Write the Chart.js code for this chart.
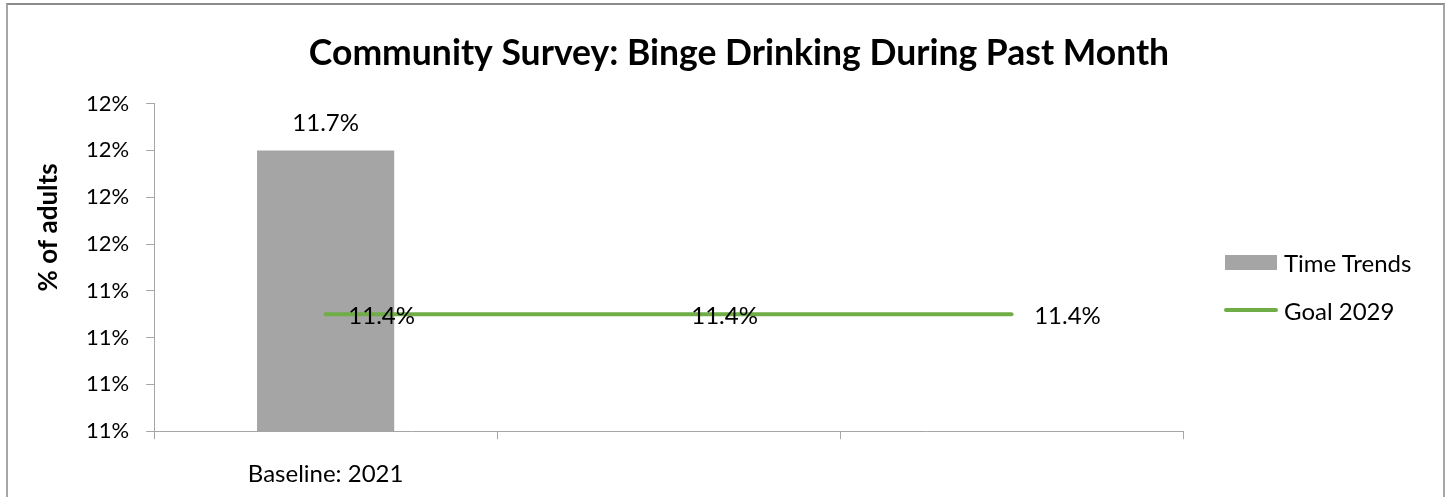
<!DOCTYPE html>
<html>
<head>
<meta charset="utf-8">
<script src="https://cdn.jsdelivr.net/npm/chart.js@4"></script>
<style>
  html, body { margin: 0; padding: 0; background: #fff; overflow: hidden; }
  .frame { position: absolute; left: 6px; top: 3px; width: 1435px; height: 520px; border: 2px solid #a6a6a6; border-top-color: #8c8c8c; }
  .wrap { position: absolute; left: 0; top: 0; width: 1448px; height: 497px; }
  .legend { position: absolute; left: 1224px; top: 247px; font: 24px Lato, "Noto Sans", sans-serif; color: #000; }
  .legend .item { display: flex; align-items: center; height: 30px; margin-bottom: 18px; white-space: nowrap; }
  .legend .sw { width: 54px; margin-right: 6px; display: flex; align-items: center; justify-content: center; }
</style>
</head>
<body>
<div class="frame"></div>
<div class="wrap"><canvas id="chart"></canvas></div>
<div class="legend" id="legend"></div>
<script>
const categories = ['Baseline: 2021', '', '']
const timeTrends = [11.7, null, null]
const goal2029 = [11.35, 11.35, 11.35]
const yTickLabels = ['11%', '11%', '11%', '11%', '12%', '12%', '12%', '12%']

const FONT = 'Lato, "Noto Sans", sans-serif'

// value labels like Excel's data labels
const valueLabels = {
    id: 'valueLabels',
    afterDatasetsDraw(chart) {
        const ctx = chart.ctx
        ctx.save()
        ctx.font = '24px ' + FONT
        ctx.fillStyle = '#000'
        ctx.textAlign = 'center'
        ctx.textBaseline = 'middle'
        chart.data.datasets.forEach((ds, i) => {
            const meta = chart.getDatasetMeta(i)
            meta.data.forEach((el, j) => {
                const v = ds.data[j]
                if (v == null) return
                const txt = (Math.round(v * 10) / 10).toFixed(1) + '%'
                if (meta.type === 'bar') {
                    ctx.fillText(txt, el.x, el.y - 27)
                } else {
                    ctx.fillText(txt, el.x + 56, el.y + 2)
                }
            })
        })
        ctx.restore()
    }
}

// excel puts the axis title a bit above the middle
const yAxisTitle = {
    id: 'yAxisTitle',
    afterDraw(chart) {
        const { ctx, chartArea } = chart
        ctx.save()
        ctx.translate(49, (chartArea.top + chartArea.bottom) / 2 - 40)
        ctx.rotate(-Math.PI / 2)
        ctx.font = 'bold 26px ' + FONT
        ctx.fillStyle = '#000'
        ctx.textAlign = 'center'
        ctx.textBaseline = 'middle'
        ctx.fillText('% of adults', 0, 0)
        ctx.restore()
    }
}

const ctx = document.getElementById('chart').getContext('2d')
const chart = new Chart(ctx, {
    type: 'bar',
    data: {
        labels: categories,
        datasets: [{
            label: 'Time Trends',
            data: timeTrends,
            backgroundColor: '#a5a5a5',
            borderWidth: 0,
            categoryPercentage: 1,
            barPercentage: 0.4,
            order: 1
        }, {
            type: 'line',
            label: 'Goal 2029',
            data: goal2029,
            borderColor: '#70ad47',
            backgroundColor: '#70ad47',
            borderWidth: 4,
            borderCapStyle: 'round',
            pointRadius: 0,
            order: 0
        }]
    },
    options: {
        responsive: true,
        maintainAspectRatio: false,
        animation: false,
        layout: { padding: { left: 69, right: 39, top: 0, bottom: -13 } },
        plugins: {
            tooltip: { enabled: false },
            legend: { display: false },
            title: {
                display: true,
                text: 'Community Survey: Binge Drinking During Past Month',
                color: '#000',
                font: { family: FONT, size: 35.5, weight: 'bold' },
                padding: { top: 32, bottom: 29 }
            }
        },
        scales: {
            x: {
                grid: { drawOnChartArea: false, offset: true, tickLength: 8, color: '#a6a6a6' },
                border: { color: '#a6a6a6' },
                ticks: { color: '#000', font: { family: FONT, size: 24 }, padding: 21, maxRotation: 0 }
            },
            y: {
                min: 11.1,
                max: 11.8,
                grid: { drawOnChartArea: false, tickLength: 8, color: '#a6a6a6' },
                border: { color: '#a6a6a6' },
                ticks: {
                    stepSize: 0.1,
                    color: '#000',
                    font: { family: FONT, size: 22 },
                    padding: 17,
                    callback: (v, i) => yTickLabels[i]
                }
            },
            // empty right axis, keeps room for the legend
            y2: {
                position: 'right',
                grid: { display: false },
                border: { display: false },
                ticks: { display: false },
                afterFit(scale) { scale.width = 226 }
            }
        }
    },
    plugins: [valueLabels, yAxisTitle]
})

// html legend built from the datasets
const legendEl = document.getElementById('legend')
chart.data.datasets.forEach(ds => {
    const item = document.createElement('div')
    item.className = 'item'
    const sw = document.createElement('span')
    sw.className = 'sw'
    const mark = document.createElement('span')
    if (ds.type === 'line') {
        mark.style.cssText = `display:block;width:54px;height:${ds.borderWidth}px;border-radius:2px;background:${ds.borderColor}`
    } else {
        mark.style.cssText = `display:block;width:52px;height:15px;background:${ds.backgroundColor}`
    }
    sw.appendChild(mark)
    const txt = document.createElement('span')
    txt.textContent = ds.label
    item.appendChild(sw)
    item.appendChild(txt)
    legendEl.appendChild(item)
})
</script>
</body>
</html>
